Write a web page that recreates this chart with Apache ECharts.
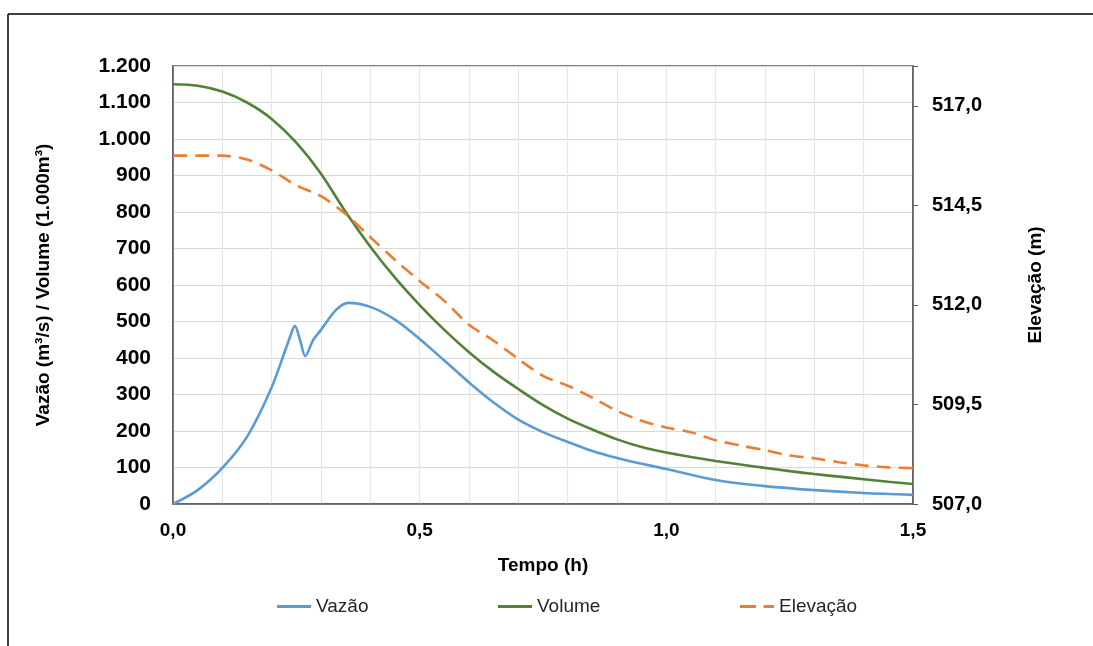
<!DOCTYPE html>
<html>
<head>
    <meta charset="utf-8">
    <title>Vazão / Volume / Elevação</title>
    <script src="https://cdn.jsdelivr.net/npm/echarts@6/dist/echarts.min.js"></script>
    <style>
        html, body { margin: 0; padding: 0; background: #fff; }
        #chart { width: 1093px; height: 646px; }
    </style>
</head>
<body>
    <div id="chart"></div>
    <script type="text/javascript">
        // tempo (h) para volume e elevação, passo de 0,05
        var tempo = [0, 0.05, 0.1, 0.15, 0.2, 0.25, 0.3, 0.35, 0.4, 0.45, 0.5, 0.55, 0.6, 0.65, 0.7, 0.75,
            0.8, 0.85, 0.9, 0.95, 1.0, 1.05, 1.1, 1.15, 1.2, 1.25, 1.3, 1.35, 1.4, 1.45, 1.5];
        var volume = [1150, 1146, 1130, 1100, 1055, 990, 905, 800, 705, 620, 545, 477, 416, 362, 315, 271,
            234, 204, 177, 156, 141, 129, 118, 108, 99, 90, 82, 75, 68, 61, 55];
        var elevacao = [515.75, 515.75, 515.75, 515.65, 515.38, 515.0, 514.73, 514.28, 513.7, 513.13, 512.6,
            512.1, 511.5, 511.1, 510.64, 510.22, 509.97, 509.67, 509.34, 509.09, 508.92, 508.8, 508.6,
            508.47, 508.35, 508.22, 508.15, 508.05, 507.97, 507.92, 507.9];

        // vazão tem pontos extras perto dos picos
        var tempoVazao = [0, 0.05, 0.1, 0.15, 0.2, 0.237, 0.247, 0.258, 0.268, 0.284, 0.3, 0.33, 0.355, 0.4,
            0.45, 0.5, 0.55, 0.6, 0.65, 0.7, 0.75, 0.8, 0.85, 0.9, 0.95, 1.0, 1.1, 1.2, 1.3, 1.4, 1.5];
        var vazao = [0, 38, 99, 184, 320, 457, 488, 447, 405, 449, 477, 531, 551, 540,
            505, 452, 393, 333, 278, 231, 197, 170, 145, 126, 110, 96, 66, 49, 38, 30, 25];

        var nomes = ['Vazão', 'Volume', 'Elevação'];
        var cores = ['#5B9BD5', '#548235', '#ED7D31'];

        var fonte = 'Liberation Sans, Arial, sans-serif';

        function pares(xs, ys) {
            return xs.map(function (x, i) { return [x, ys[i]]; });
        }
        function milhar(v) {
            return String(v).replace(/\B(?=(\d{3})+(?!\d))/g, '.');
        }

        // uma legenda por série, para acertar as posições
        var iconeLinha = 'path://M0,0H36V3H0Z';
        var iconeTraco = 'path://M0,0H17V3H0Z M25,0H36V3H25Z';
        var legendas = [[272, iconeLinha], [493, iconeLinha], [735, iconeTraco]].map(function (p, i) {
            return {
                left: p[0], top: 592,
                itemWidth: 34, itemHeight: 3, itemGap: 0,
                textStyle: { fontFamily: fonte, fontSize: 19, color: '#262626' },
                data: [{ name: nomes[i], icon: p[1] }]
            };
        });

        var chart = echarts.init(document.getElementById('chart'));
        var option = {
            backgroundColor: '#fff',
            animation: false,
            grid: {
                left: 173, right: 180, top: 66, bottom: 142,
                show: true, borderColor: '#595959', borderWidth: 1.5
            },
            legend: legendas,
            graphic: [
                { type: 'line', shape: { x1: 8, y1: 14, x2: 1093, y2: 14 }, style: { stroke: '#000', lineWidth: 1.5 } },
                { type: 'line', shape: { x1: 8, y1: 14, x2: 8, y2: 646 }, style: { stroke: '#000', lineWidth: 1.5 } }
            ],
            xAxis: {
                type: 'value', min: 0, max: 1.5, interval: 0.1,
                name: 'Tempo (h)', nameLocation: 'middle', nameGap: 52,
                nameTextStyle: { fontFamily: fonte, fontSize: 19, fontWeight: 'bold', color: '#000' },
                axisLine: { lineStyle: { color: '#595959', width: 1.5 } },
                axisTick: { show: false },
                axisLabel: {
                    margin: 17, fontFamily: fonte, fontSize: 19, fontWeight: 'bold', color: '#000',
                    formatter: function (v) {
                        if (Math.abs(v * 2 - Math.round(v * 2)) < 1e-6) return v.toFixed(1).replace('.', ',');
                        return '';
                    }
                },
                splitLine: { show: true, lineStyle: { color: '#e6e6e6', width: 1.2 } }
            },
            yAxis: [{
                type: 'value', min: 0, max: 1200, interval: 100,
                name: 'Vazão (m³/s) / Volume (1.000m³)', nameLocation: 'middle', nameGap: 120,
                nameTextStyle: { fontFamily: fonte, fontSize: 19, fontWeight: 'bold', color: '#000' },
                axisLine: { show: true, lineStyle: { color: '#595959', width: 1.5 } },
                axisTick: { show: false },
                axisLabel: {
                    margin: 22, fontFamily: fonte, fontSize: 21, fontWeight: 'bold', color: '#000',
                    formatter: milhar
                },
                splitLine: { lineStyle: { color: '#d9d9d9', width: 1.2 } }
            }, {
                type: 'value', min: 507, max: 518, interval: 2.5, position: 'right',
                name: 'Elevação (m)', nameLocation: 'middle', nameGap: 113,
                nameTextStyle: { fontFamily: fonte, fontSize: 19, fontWeight: 'bold', color: '#000' },
                axisLine: { show: true, lineStyle: { color: '#595959', width: 1.5 } },
                axisTick: { show: true, length: 5, lineStyle: { color: '#595959' } },
                axisLabel: {
                    margin: 19, fontFamily: fonte, fontSize: 20, fontWeight: 'bold', color: '#000',
                    formatter: function (v) {
                        if (v > 517.5) return '';
                        return v.toFixed(1).replace('.', ',');
                    }
                },
                splitLine: { show: false }
            }],
            series: [{
                name: nomes[0], type: 'line', yAxisIndex: 0,
                symbol: 'none', smooth: 0.3,
                lineStyle: { color: cores[0], width: 2.6 },
                itemStyle: { color: cores[0] },
                data: pares(tempoVazao, vazao)
            }, {
                name: nomes[1], type: 'line', yAxisIndex: 0,
                symbol: 'none', smooth: 0.3,
                lineStyle: { color: cores[1], width: 2.6 },
                itemStyle: { color: cores[1] },
                data: pares(tempo, volume)
            }, {
                name: nomes[2], type: 'line', yAxisIndex: 1,
                symbol: 'none', smooth: 0.3,
                lineStyle: { color: cores[2], width: 2.6, type: [14, 8] },
                itemStyle: { color: cores[2] },
                data: pares(tempo, elevacao)
            }]
        };
        chart.setOption(option);
    </script>
</body>
</html>
